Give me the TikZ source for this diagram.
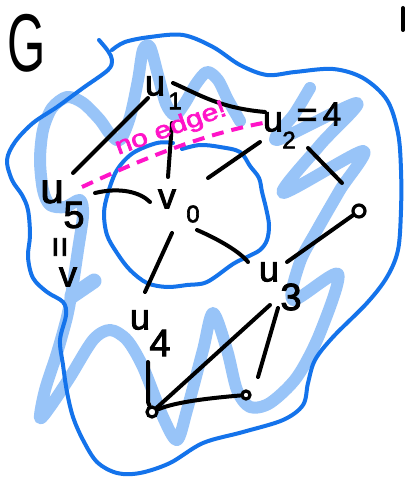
\documentclass[tikz,border=0pt]{standalone}
\usepackage{fontspec}
\setmainfont{Liberation Sans}
\newfontfamily\hand[FakeBold=2.5]{Liberation Sans}
\definecolor{outerblue}{RGB}{20,115,235}
\definecolor{scrib}{RGB}{152,196,248}
\definecolor{pink}{RGB}{255,20,200}
\begin{document}
\begin{tikzpicture}[x=1pt,y=-1pt,
  ink/.style={line width=4pt,line cap=round,line join=round},
  edge/.style={ink,black},
  bluecurve/.style={ink,outerblue},
  shade/.style={line width=12pt,scrib,line cap=round,line join=round},
  lbl/.style={inner sep=0pt,font=\hand\fontsize{36}{36}\selectfont},
  sub/.style={inner sep=0pt,font=\hand\fontsize{24}{24}\selectfont},
  big/.style={inner sep=0pt,font=\hand\fontsize{38}{38}\selectfont},
  vert/.style={circle,draw=black,line width=3.2pt,inner sep=0pt,fill=white}]
\useasboundingbox (0,0) rectangle (405,481);
\fill[white] (0,0) rectangle (405,481);

% light blue scribble shading
\draw[shade] plot[smooth,tension=0.5] coordinates {
 (240,121) (228,100) (218,80) (207,72) (196,84) (185,103) (175,115) (166,104)
 (158,75) (150,47) (143,50) (138,80) (130,117) (120,140) (110,134) (100,120)
 (83,103) (67,97) (52,108) (43,130) (40,160) (43,190) (50,205) (65,207) (80,200)
 (83,215) (78,250) (72,290) (67,317) (57,353) (45,390) (40,418) (50,407) (70,377)
 (93,340) (110,330) (127,340) (143,367) (163,417) (177,440) (187,410) (203,350)
 (213,313) (227,350) (237,390) (250,407) (270,403) (297,377) (320,333) (338,274)
 (293,300) (300,262) (317,230) (340,190) (363,151) (283,193) (320,145) (357,103)
 (277,140) (295,113) (310,88)};
\draw[shade,line width=15pt] (72,296) -- (94,281);

% outer blue outline
\draw[bluecurve] plot[smooth,tension=0.55] coordinates {
 (99,40) (108,51) (112,60) (108,70) (83,88) (57,107) (33,123) (15,142) (7,160)
 (12,180) (22,195) (28,210) (30,235) (28,257) (33,278) (47,292) (63,302) (66,315)
 (60,340) (63,365) (67,392) (73,417) (83,440) (97,462) (117,473) (140,473) (170,463)
 (203,443) (243,432) (283,420) (303,405) (308,383) (315,360) (333,337) (367,303)
 (387,277) (398,250) (401,210) (401,170) (398,133) (387,100) (363,78) (333,69)
 (295,72) (267,75) (240,65) (213,47) (183,35) (150,37) (125,42) (112,50)};

% inner blue outline
\draw[bluecurve] plot[smooth,tension=0.55] coordinates {
 (173,143) (157,143) (133,153) (117,170) (108,193) (104,213) (107,235) (117,253)
 (130,270) (147,283) (167,287) (187,285) (207,282) (233,264) (247,257) (260,250)
 (267,240) (269,225) (266,208) (262,192) (259,178) (250,166) (240,152) (220,147)
 (200,145) (182,149)};

% labels
\node[inner sep=0pt,font=\fontsize{82}{82}\selectfont,xscale=0.6] (G) at (27,43) {G};
\node[lbl] (u1) at (155,86) {u};
\node[sub] (u1s) at (175,101) {1};
\node[lbl] (u2) at (273,122) {u};
\node[sub] (u2s) at (289,140) {2};
\node[lbl] (u2eq) at (307,118) {=};
\node[inner sep=0pt,font=\hand\fontsize{33}{33}\selectfont] (u2v) at (332,114) {4};
\node[inner sep=0pt,font=\hand\fontsize{42}{42}\selectfont] (u5) at (52,192) {u};
\node[big] (u5s) at (74,215) {5};
\node[lbl,rotate=90] (u5eq) at (63,247) {=};
\node[lbl] (u5v) at (68,277) {v};
\node[lbl] (v0) at (167,199) {v};
\node[sub] (v0s) at (193,214) {0};
\node[lbl] (u3) at (269,272) {u};
\node[big] (u3s) at (291,297) {3};
\node[lbl] (u4) at (140,320) {u};
\node[big] (u4s) at (160,343) {4};

% vertices
\node[vert,minimum size=12pt] (c1) at (359,211) {};
\node[vert,minimum size=10pt] (c2) at (152,412) {};
\node[vert,minimum size=8pt] (c3) at (246,395) {};

% edge end points
\coordinate (a1) at (173,83);  \coordinate (a2) at (265,112);
\coordinate (b1) at (148,98);  \coordinate (b2) at (73,173);
\coordinate (d1) at (172,123); \coordinate (d2) at (168,177);
\coordinate (f1) at (260,142); \coordinate (f2) at (208,178);
\coordinate (g1) at (308,148); \coordinate (g2) at (342,183);
\coordinate (h1) at (95,193);  \coordinate (h2) at (150,202);
\coordinate (k1) at (287,262);
\coordinate (m1) at (197,230); \coordinate (m2) at (248,262);
\coordinate (n1) at (172,233); \coordinate (n2) at (145,292);
\coordinate (p1) at (148,362);
\coordinate (q1) at (270,305);
\coordinate (r1) at (278,308); \coordinate (r2) at (258,377);
\coordinate (s1) at (82,187);  \coordinate (s2) at (263,123);
\coordinate (t1) at (403,8);   \coordinate (t2) at (403,30);

% black edges
\draw[edge] (a1) .. controls (200,95) and (220,108) .. (a2);
\draw[edge] (b1) -- (b2);
\draw[edge] (d1) -- (d2);
\draw[edge] (f1) -- (f2);
\draw[edge] (g1) -- (g2);
\draw[edge] (h1) .. controls (120,187) and (140,192) .. (h2);
\draw[edge] (c1) -- (k1);
\draw[edge] (m1) .. controls (220,240) and (240,252) .. (m2);
\draw[edge] (n1) -- (n2);
\draw[edge] (p1) -- (148,402) -- (c2);
\draw[edge] (c2) -- (q1);
\draw[edge] (c2) .. controls (175,402) and (210,398) .. (c3);
\draw[edge] (r1) -- (r2);
\draw[edge] (t1) -- (t2);

% no edge
\draw[pink,line width=4pt,dash pattern=on 12pt off 8pt] (s1) .. controls (140,160) and (200,135) .. (s2);
\node[pink,inner sep=0pt,rotate=20,font=\hand\fontsize{24}{24}\selectfont] (ne) at (171,129) {\scalebox{1.25}[1]{no edge!}};
\end{tikzpicture}
\end{document}
